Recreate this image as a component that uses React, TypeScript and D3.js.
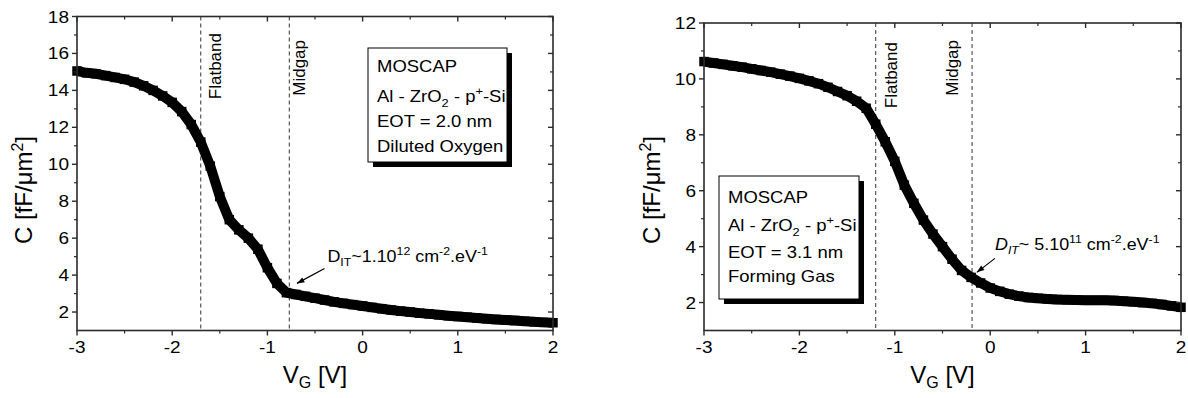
import React from 'react';
import * as d3 from 'd3';

// gate voltage sweep (V), shared by both samples
const gateVoltage = [
  -3.0, -2.9, -2.8, -2.7, -2.6, -2.5, -2.4, -2.3, -2.2, -2.1,
  -2.0, -1.9, -1.8, -1.7, -1.6, -1.5, -1.4, -1.3, -1.2, -1.1,
  -1.0, -0.9, -0.8, -0.7, -0.6, -0.5, -0.4, -0.3, -0.2, -0.1,
  0.0, 0.1, 0.2, 0.3, 0.4, 0.5, 0.6, 0.7, 0.8, 0.9,
  1.0, 1.1, 1.2, 1.3, 1.4, 1.5, 1.6, 1.7, 1.8, 1.9, 2.0,
];

// C [fF/um^2], diluted oxygen anneal (EOT = 2.0 nm)
const capDilutedOxygen = [
  15.05, 14.95, 14.9, 14.8, 14.7, 14.6, 14.45, 14.25, 14.0, 13.7,
  13.35, 12.85, 12.15, 11.2, 9.9, 8.25, 7.0, 6.45, 6.0, 5.4,
  4.4, 3.55, 3.05, 2.95, 2.85, 2.75, 2.65, 2.55, 2.47, 2.4,
  2.33, 2.25, 2.18, 2.11, 2.05, 2.0, 1.94, 1.9, 1.85, 1.8,
  1.76, 1.72, 1.68, 1.64, 1.6, 1.57, 1.54, 1.5, 1.47, 1.44, 1.42,
];

// C [fF/um^2], forming gas anneal (EOT = 3.1 nm)
const capFormingGas = [
  10.62, 10.57, 10.52, 10.47, 10.42, 10.36, 10.3, 10.24, 10.17, 10.1,
  10.02, 9.93, 9.83, 9.7, 9.55, 9.4, 9.2, 8.95, 8.38, 7.75,
  7.05, 6.2, 5.55, 4.95, 4.45, 4.0, 3.55, 3.15, 2.9, 2.7,
  2.52, 2.4, 2.3, 2.23, 2.18, 2.15, 2.13, 2.11, 2.1, 2.09,
  2.08, 2.08, 2.08, 2.07, 2.05, 2.03, 2.0, 1.97, 1.93, 1.88, 1.83,
];

const xTicks = [-3, -2, -1, 0, 1, 2];
const leftYTicks = [2, 4, 6, 8, 10, 12, 14, 16, 18];
const rightYTicks = [2, 4, 6, 8, 10, 12];

const leftLegend = ['MOSCAP', 'Al - ZrO2 - p+-Si', 'EOT = 2.0 nm', 'Diluted Oxygen'];
const rightLegend = ['MOSCAP', 'Al - ZrO2 - p+-Si', 'EOT = 3.1 nm', 'Forming Gas'];

const FONT = '"Liberation Sans", Arial, Helvetica, sans-serif';
const SX = 1.12; // the source figure is slightly stretched sideways
const AXIS = '#2b2b2b';

// text with the horizontal stretch of the original figure
const T = ({ x, y, size = 17, anchor = 'start', children }: any) => (
  <text
    transform={`translate(${x},${y}) scale(${SX},1)`}
    fontSize={size}
    textAnchor={anchor}
    fill="#000"
  >
    {children}
  </text>
);

const LegendLine = ({ text, x, y }: { text: string; x: number; y: number }) => {
  if (text.startsWith('Al')) {
    return (
      <T x={x} y={y} size={16.5}>
        Al - ZrO
        <tspan fontSize={11.5} dy={5}>2</tspan>
        <tspan dy={-5}> - p</tspan>
        <tspan fontSize={11.5} dy={-7}>+</tspan>
        <tspan dy={7}>-Si</tspan>
      </T>
    );
  }
  return <T x={x} y={y} size={16.5}>{text}</T>;
};

interface PanelProps {
  data: number[];
  yDomain: [number, number];
  yTicks: number[];
  xRange: [number, number];
  yRange: [number, number];
  flatband: number;
  midgap: number;
  labels: { fb: [number, number]; mg: [number, number] };
  legend: string[];
  box: { x: number; y: number; w: number; h: number; lines: number[] };
  dit: { text: [number, number]; from: [number, number]; to: [number, number]; exp: string; pre: string; italic: boolean };
  yTitleX: number;
}

const Panel = ({ data, yDomain, yTicks, xRange, yRange, flatband, midgap, labels, legend, box, dit, yTitleX }: PanelProps) => {
  const x = d3.scaleLinear().domain([-3, 2]).range(xRange);
  const y = d3.scaleLinear().domain(yDomain).range(yRange);
  const [x0, x1] = xRange;
  const [yb, yt] = yRange;
  const xMinor = d3.range(-2.5, 2, 1);
  const yMinor = d3.range(yDomain[0] + 2, yDomain[1], 2);

  const pts = gateVoltage.map((v, i) => [v, data[i]] as [number, number]);
  const line = d3.line<[number, number]>().x(d => x(d[0])).y(d => y(d[1]));
  const M = 9.5;

  const arrowAng = Math.atan2(y(dit.to[1]) - y(dit.from[1]), x(dit.to[0]) - x(dit.from[0]));
  const tipX = x(dit.to[0]);
  const tipY = y(dit.to[1]);
  const head = (a: number) => `${tipX - 8 * Math.cos(arrowAng + a)},${tipY - 8 * Math.sin(arrowAng + a)}`;
  const ds = dit.italic ? 'italic' : 'normal';

  return (
    <g fontFamily={FONT}>
      {/* reference lines */}
      {[flatband, midgap].map((v, i) => (
        <line key={i} x1={x(v)} x2={x(v)} y1={yt} y2={yb} stroke="#333" strokeWidth={1} strokeDasharray="4,3" />
      ))}
      <text transform={`translate(${x(flatband) + labels.fb[0]},${labels.fb[1]}) rotate(-90)`} fontSize={17} textAnchor="end">Flatband</text>
      <text transform={`translate(${x(midgap) + labels.mg[0]},${labels.mg[1]}) rotate(-90)`} fontSize={17} textAnchor="end">Midgap</text>

      {/* C-V curve: thick square markers */}
      <path d={line(pts) || ''} fill="none" stroke="#000" strokeWidth={M + 0.5} strokeLinejoin="miter" />
      {pts.map((d, i) => (
        <rect key={i} x={x(d[0]) - M / 2} y={y(d[1]) - M / 2} width={M} height={M} fill="#000" />
      ))}

      {/* frame */}
      <rect x={x0} y={yt} width={x1 - x0} height={yb - yt} fill="none" stroke={AXIS} strokeWidth={1.6} />
      {xTicks.map(t => (
        <g key={t}>
          <line x1={x(t)} x2={x(t)} y1={yb} y2={yb + 5} stroke={AXIS} strokeWidth={1.4} />
          <line x1={x(t)} x2={x(t)} y1={yt} y2={yt + 5} stroke={AXIS} strokeWidth={1.4} />
          <T x={x(t)} y={yb + 22} anchor="middle">{String(t)}</T>
        </g>
      ))}
      {xMinor.map(t => (
        <g key={t}>
          <line x1={x(t)} x2={x(t)} y1={yb} y2={yb + 3} stroke={AXIS} strokeWidth={1.2} />
          <line x1={x(t)} x2={x(t)} y1={yt} y2={yt + 3} stroke={AXIS} strokeWidth={1.2} />
        </g>
      ))}
      {yTicks.map(t => (
        <g key={t}>
          <line x1={x0} x2={x0 - 5} y1={y(t)} y2={y(t)} stroke={AXIS} strokeWidth={1.4} />
          <line x1={x1} x2={x1 - 5} y1={y(t)} y2={y(t)} stroke={AXIS} strokeWidth={1.4} />
          <T x={x0 - 8} y={y(t) + 6} anchor="end">{String(t)}</T>
        </g>
      ))}
      {yMinor.map(t => (
        <g key={t}>
          <line x1={x0} x2={x0 - 3} y1={y(t)} y2={y(t)} stroke={AXIS} strokeWidth={1.2} />
          <line x1={x1} x2={x1 - 3} y1={y(t)} y2={y(t)} stroke={AXIS} strokeWidth={1.2} />
        </g>
      ))}

      {/* axis titles */}
      <text x={(x0 + x1) / 2} y={383} fontSize={24} textAnchor="middle">
        V<tspan fontSize={16} dy={5}>G</tspan>
        <tspan dy={-5}> [V]</tspan>
      </text>
      <text transform={`translate(${yTitleX},190) rotate(-90)`} fontSize={24} textAnchor="middle">
        C [fF/μm<tspan fontSize={16} dy={-9}>2</tspan>
        <tspan dy={9}>]</tspan>
      </text>

      {/* legend box */}
      <rect x={box.x + 5} y={box.y + 5} width={box.w} height={box.h} fill="#000" />
      <rect x={box.x} y={box.y} width={box.w} height={box.h} fill="#fff" stroke="#000" strokeWidth={1} />
      {legend.map((s, i) => (
        <LegendLine key={i} text={s} x={box.x + 9} y={box.lines[i]} />
      ))}

      {/* D_IT annotation */}
      <line x1={x(dit.from[0])} y1={y(dit.from[1])} x2={tipX} y2={tipY} stroke="#000" strokeWidth={1.2} />
      <polygon points={`${tipX},${tipY} ${head(0.35)} ${head(-0.35)}`} fill="#000" />
      <T x={x(dit.text[0])} y={y(dit.text[1])} size={16}>
        <tspan fontStyle={ds}>D</tspan>
        <tspan fontSize={11} dy={4} fontStyle={ds}>IT</tspan>
        <tspan dy={-4}>{dit.pre}</tspan>
        <tspan fontSize={11} dy={-7}>{dit.exp}</tspan>
        <tspan dy={7}> cm</tspan>
        <tspan fontSize={11} dy={-7}>-2</tspan>
        <tspan dy={7}>.eV</tspan>
        <tspan fontSize={11} dy={-7}>-1</tspan>
      </T>
    </g>
  );
};

export default function App() {
  return (
    <svg
      width={1188}
      height={398}
      viewBox="0 0 1188 398"
      style={{ position: 'absolute', left: 0, top: 0, background: '#fff' }}
    >
      <Panel
        data={capDilutedOxygen}
        yDomain={[1, 18]}
        yTicks={leftYTicks}
        xRange={[77, 553]}
        yRange={[330.5, 16.5]}
        flatband={-1.7}
        midgap={-0.77}
        labels={{ fb: [20, 33], mg: [16, 40] }}
        legend={leftLegend}
        box={{ x: 368, y: 48, w: 139, h: 114, lines: [72, 102, 127, 152] }}
        dit={{ text: [-0.37, 4.69], from: [-0.4, 4.36], to: [-0.69, 3.55], pre: '~1.10', exp: '12', italic: false }}
        yTitleX={32}
      />
      <Panel
        data={capFormingGas}
        yDomain={[1, 12]}
        yTicks={rightYTicks}
        xRange={[704, 1181]}
        yRange={[330.5, 23]}
        flatband={-1.2}
        midgap={-0.19}
        labels={{ fb: [21, 42], mg: [-14, 40] }}
        legend={rightLegend}
        box={{ x: 719, y: 176, w: 140, h: 123, lines: [203, 231, 258, 282] }}
        dit={{ text: [0.05, 3.87], from: [0.05, 3.58], to: [-0.14, 3.08], pre: '~ 5.10', exp: '11', italic: true }}
        yTitleX={660}
      />
    </svg>
  );
}
